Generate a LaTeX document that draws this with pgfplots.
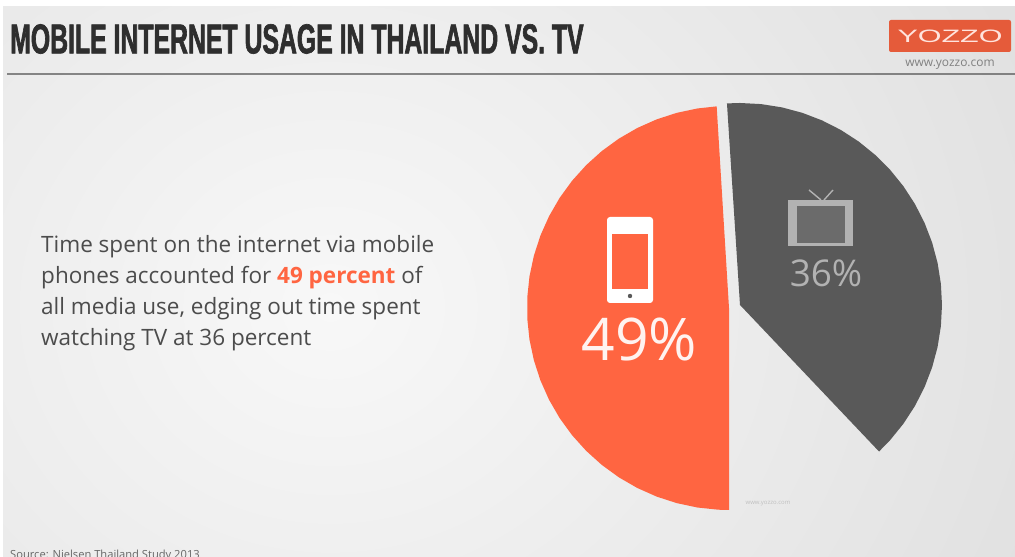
\documentclass[border=0pt]{standalone}
\usepackage{pgfplots}
\pgfplotsset{compat=1.18}
\usepackage{fontspec}
\setmainfont{Open Sans}
\newfontfamily\titlefont{Liberation Sans}[FakeStretch=0.593,FakeBold=1.5]
\newfontfamily\logofont{Liberation Sans}[FakeStretch=1.7]
\definecolor{orangeW}{HTML}{FF6541}
\definecolor{darkW}{HTML}{595959}
\definecolor{bgA}{HTML}{F8F8F8}
\definecolor{bgB}{HTML}{DEDEDE}
\pgfplotsset{canvas/.style={axis lines=none,scale only axis,width=1015bp,height=557bp,clip=false,anchor=south west,at={(0,0)}}}
\begin{document}
\begin{tikzpicture}[x=1bp,y=1bp]
\path[use as bounding box] (0,0) rectangle (1015,557);
\clip (0,0) rectangle (1015,557);
\fill[white] (0,0) rectangle (1015,557);
\begin{scope}
\clip (3,0) rectangle (1015,550);
\shade[inner color=bgA,outer color=bgB] (-520,-500) rectangle (1180,1000);
\end{scope}
\begin{scope}[shift={(0,557)},y=-1bp]
\fill[gray!70!black,opacity=.7] (7,73) rectangle (1015,75.5);
\end{scope}
% mobile wedge: apex at pixel (729,308)
\begin{axis}[canvas,xmin=-729,xmax=286,ymin=-249,ymax=308]
\addplot[fill=orangeW,draw=none,data cs=polar] coordinates {
(0,0)(93.5,202)(99,202)(105,202)(111,202)(117,202)(123,202)(129,202)(135,202)(141,202)(147,202)(153,202)(159,202)(165,202)(171,202)(177,202)(183,202)(189,202)(195,202)(201,202)(207,202)(213,202)(219,202)(225,202)(231,202)(237,202)(243,202)(249,202)(255,202)(261,202)(267,202)(270,202)} -- cycle;
\end{axis}
% TV wedge: apex at pixel (740,305)
\begin{axis}[canvas,xmin=-740,xmax=275,ymin=-252,ymax=305]
\addplot[fill=darkW,draw=none,data cs=polar] coordinates {
(0,0)(-46.5,202)(-42,202)(-36,202)(-30,202)(-24,202)(-18,202)(-12,202)(-6,202)(0,202)(6,202)(12,202)(18,202)(24,202)(30,202)(36,202)(42,202)(48,202)(54,202)(60,202)(66,202)(72,202)(78,202)(84,202)(90,202)(93.7,202)} -- cycle;
\end{axis}
\begin{scope}[shift={(0,557)},y=-1bp]
% title
\node[anchor=west,inner sep=0pt,text=black!82] at (10,39) {\titlefont\fontsize{42}{42}\selectfont\textbf{MOBILE INTERNET USAGE IN THAILAND VS. TV}};
% logo
\fill[orangeW!90!black,rounded corners=2pt] (889,20) rectangle (1011,52);
\node[text=white!82!orangeW,inner sep=0pt] at (950,36) {\logofont\fontsize{18}{18}\selectfont YOZZO};
\node[text=gray,inner sep=0pt] at (950,65) {\fontsize{12}{12}\selectfont www.yozzo.com};
% text
\node[anchor=west,inner sep=0pt,text=black!70] at (41,247) {\fontsize{22.6}{22.6}\selectfont Time spent on the internet via mobile};
\node[anchor=west,inner sep=0pt,text=black!70] at (41,278) {\fontsize{22.6}{22.6}\selectfont phones accounted for \textcolor{orangeW}{\textbf{49 percent}} of};
\node[anchor=west,inner sep=0pt,text=black!70] at (41,309) {\fontsize{22.6}{22.6}\selectfont all media use, edging out time spent};
\node[anchor=west,inner sep=0pt,text=black!70] at (41,340) {\fontsize{22.6}{22.6}\selectfont watching TV at 36 percent};
\node[anchor=west,inner sep=0pt,text=black!60] at (10,556) {\fontsize{11.2}{11.2}\selectfont Source: Nielsen Thailand Study 2013};
% phone
\fill[white,rounded corners=3pt] (607,217) rectangle (653,303);
\fill[orangeW] (612,234) rectangle (648,289);
\fill[darkW] (630,296) circle (2.2);
\node[text=white!92!orangeW,inner sep=0pt] at (639.5,340) {\fontsize{59}{59}\selectfont 49\%};
% tv
\fill[black!30] (788,200) rectangle (853,246);
\fill[black!58] (797,206) rectangle (845,243);
\draw[black!30,line width=1.4pt] (809,190) -- (821,200) (833,190) -- (824,200);
\node[text=black!30,inner sep=0pt] at (826,273) {\fontsize{37}{37}\selectfont 36\%};
\node[text=black!25,inner sep=0pt] at (768,504) {\fontsize{6}{6}\selectfont www.yozzo.com};
\end{scope}
\end{tikzpicture}
\end{document}
